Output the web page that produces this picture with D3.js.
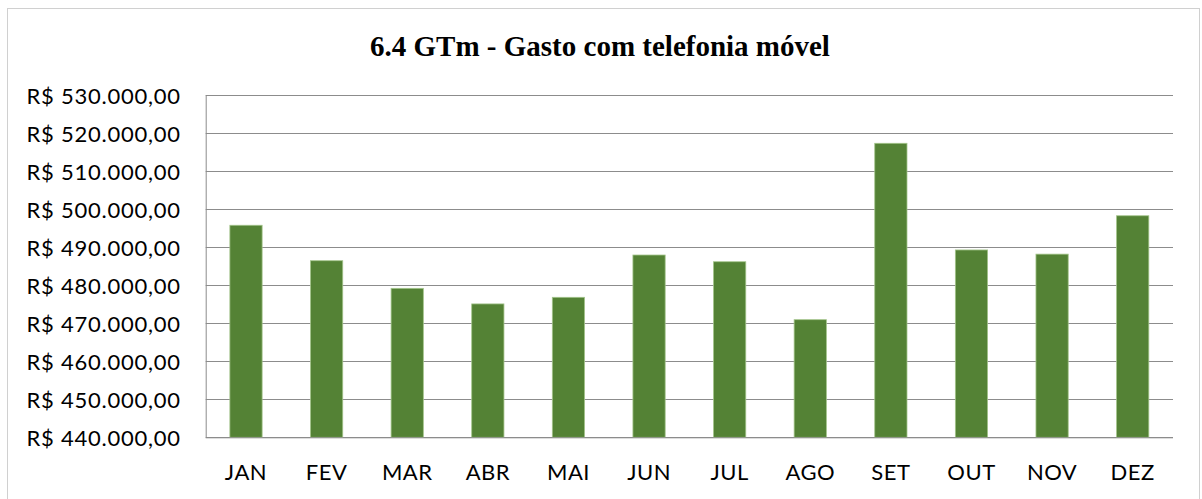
<!DOCTYPE html>
<html>
<head>
<meta charset="utf-8">
<script src="https://cdn.jsdelivr.net/npm/d3@7"></script>
<style>
  body { margin: 0; background: #fff; }
  svg { display: block; }
</style>
</head>
<body>
<svg id="chart" width="1202" height="499"></svg>
<script>
const months = ['JAN', 'FEV', 'MAR', 'ABR', 'MAI', 'JUN', 'JUL', 'AGO', 'SET', 'OUT', 'NOV', 'DEZ'];
const gastos = [495800, 486470, 479200, 475100, 476840, 487970, 486200, 470950, 517370, 489300, 488200, 498300];
const yTicks = [440000, 450000, 460000, 470000, 480000, 490000, 500000, 510000, 520000, 530000];

const svg = d3.select('#chart');
const margin = { top: 95.3, right: 29, bottom: 61.7, left: 205.7 };
const width = +svg.attr('width');
const height = +svg.attr('height');

// outer frame
svg.append('rect')
    .attr('x', 7.5).attr('y', 8.5)
    .attr('width', 1192).attr('height', 500)
    .attr('fill', '#fff')
    .attr('stroke', '#d0d0d0');

svg.append('text')
    .attr('x', 600).attr('y', 56)
    .attr('text-anchor', 'middle')
    .style('font-family', '"Liberation Serif", "Times New Roman", serif')
    .style('font-weight', 'bold')
    .style('font-size', '29px')
    .text('6.4 GTm - Gasto com telefonia móvel');

const x = d3.scaleBand()
    .domain(months)
    .range([margin.left, width - margin.right])
    .paddingInner(0.6)
    .paddingOuter(0.3);

const y = d3.scaleLinear()
    .domain([440000, 530000])
    .range([height - margin.bottom, margin.top]);

const fmt = v => 'R$ ' + d3.format(',.2f')(v).replace(/,/g, '#').replace('.', ',').replace(/#/g, '.');

// gridlines
svg.append('g')
    .selectAll('line')
    .data(yTicks)
    .enter()
    .append('line')
    .attr('x1', margin.left).attr('x2', width - margin.right)
    .attr('y1', d => Math.round(y(d)) + 0.5).attr('y2', d => Math.round(y(d)) + 0.5)
    .attr('stroke', '#8c8c8c');

// y axis
const yAxis = svg.append('g')
    .attr('transform', `translate(${margin.left},0)`)
    .call(d3.axisLeft(y).tickValues(yTicks).tickFormat(fmt).tickSize(0).tickPadding(25));
yAxis.select('.domain').remove();
yAxis.append('line')
    .attr('x1', 0.5).attr('x2', 0.5)
    .attr('y1', y(530000)).attr('y2', y(440000))
    .attr('stroke', '#8c8c8c');
yAxis.selectAll('text')
    .attr('dy', '0.37em')
    .style('font-family', 'Lato, "Open Sans", sans-serif')
    .style('font-size', '22px')
    .style('letter-spacing', '0.75px')
    .attr('fill', '#000');

// bars
svg.append('g')
    .selectAll('rect')
    .data(gastos)
    .enter()
    .append('rect')
    .attr('x', (d, i) => x(months[i]))
    .attr('width', x.bandwidth())
    .attr('y', d => y(d))
    .attr('height', d => y(440000) - y(d))
    .attr('fill', '#548235')
    .attr('stroke', '#a3c48a')
    .attr('stroke-width', 0.8);

// x axis
const xAxis = svg.append('g')
    .attr('transform', `translate(0,${y(440000)})`)
    .call(d3.axisBottom(x).tickSize(0).tickPadding(27));
xAxis.select('.domain').remove();
xAxis.append('line')
    .attr('x1', margin.left).attr('x2', width - margin.right)
    .attr('y1', 0.5).attr('y2', 0.5)
    .attr('stroke', '#8c8c8c');
xAxis.selectAll('text')
    .style('font-family', 'Lato, "Open Sans", sans-serif')
    .style('font-size', '22px')
    .style('letter-spacing', '0.5px')
    .attr('fill', '#000');
</script>
</body>
</html>
